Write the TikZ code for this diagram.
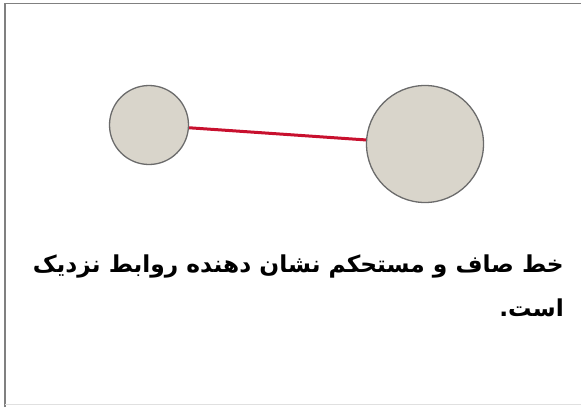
\documentclass[tikz,border=0pt]{standalone}
\usepackage{fontspec}
\newfontfamily\arabicfont[Script=Arabic]{DejaVu Sans}
\TeXXeTstate=1
\usetikzlibrary{positioning}

\begin{document}
\begin{tikzpicture}[x=1pt, y=-1pt,
    ball/.style={draw=black!58, fill=ballgray, circle, line width=1.3pt, inner sep=0pt},
    tie/.style={draw=tiered, line width=3pt},
    caption/.style={font=\arabicfont\bfseries\fontsize{23.3}{44}\selectfont, align=right, inner sep=0pt}]
  \definecolor{ballgray}{HTML}{D9D5CB}
  \definecolor{tiered}{HTML}{C8102E}
  % frame
  \useasboundingbox (0,0) rectangle (581,407);
  \draw[black!50, line width=1.6pt] (5,407) -- (5,3.5) -- (581,3.5);
  \draw[black!12, line width=0.8pt] (5,404) -- (581,404);
  % the two people
  \node[ball, minimum size=79pt] (small) at (149,125) {};
  \node[ball, minimum size=117pt] (big) at (425,144) {};
  \draw[tie] (small) -- (big);
  % text
  \node[caption, anchor=base east] (txt) at (564,316)
    {\beginR خط صاف و مستحکم نشان دهنده روابط نزدیک\endR\\ \beginR است.\endR};
\end{tikzpicture}
\end{document}
